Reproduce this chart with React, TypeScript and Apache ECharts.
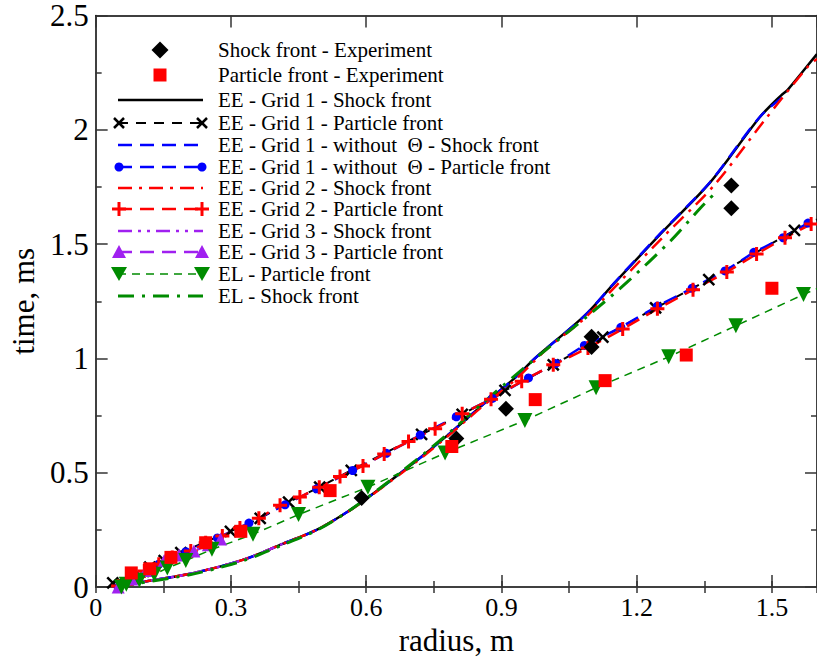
import { useEffect, useRef } from 'react';
import * as echarts from 'echarts';

const FONT = "'Liberation Serif', 'Times New Roman', Times, serif";

// ---- data (radius m, time ms) ----
const expShock: number[][] = [[0.59, 0.39], [0.80, 0.65], [0.91, 0.78], [1.10, 1.095], [1.10, 1.05], [1.41, 1.757], [1.41, 1.657]];
const expParticle: number[][] = [[0.079, 0.062], [0.12, 0.08], [0.167, 0.13], [0.244, 0.194], [0.322, 0.244], [0.52, 0.422], [0.79, 0.615], [0.975, 0.82], [1.13, 0.903], [1.31, 1.015], [1.50, 1.307]];

const ee1Shock: number[][] = [[0.04, 0], [0.108, 0.024], [0.218, 0.062], [0.328, 0.12], [0.416, 0.19], [0.49, 0.25], [0.563, 0.335], [0.637, 0.44], [0.71, 0.55], [0.783, 0.668], [0.857, 0.795], [0.93, 0.915], [0.974, 1.0], [1.084, 1.186], [1.15, 1.328], [1.253, 1.545], [1.363, 1.77], [1.473, 2.055], [1.52, 2.15], [1.535, 2.175], [1.598, 2.327], [1.6, 2.332]];
const ee1Particle: number[][] = [[0.038, 0.018], [0.12, 0.087], [0.152, 0.116], [0.189, 0.151], [0.299, 0.244], [0.365, 0.301], [0.428, 0.372], [0.497, 0.437], [0.567, 0.511], [0.723, 0.668], [0.813, 0.755], [0.908, 0.86], [1.015, 0.972], [1.125, 1.093], [1.242, 1.221], [1.36, 1.345], [1.55, 1.56], [1.6, 1.608]];
const ee1NoThetaShock: number[][] = [[0.04, 0], [0.108, 0.024], [0.218, 0.062], [0.328, 0.12], [0.416, 0.19], [0.49, 0.25], [0.563, 0.335], [0.637, 0.44], [0.71, 0.55], [0.783, 0.668], [0.857, 0.795], [0.93, 0.915], [0.974, 1.0], [1.084, 1.186], [1.15, 1.33], [1.253, 1.548], [1.363, 1.772], [1.473, 2.056], [1.532, 2.156]];
const ee1NoThetaParticle: number[][] = [[0.05, 0.0], [0.09, 0.045], [0.14, 0.1], [0.2, 0.155], [0.27, 0.215], [0.34, 0.28], [0.42, 0.36], [0.49, 0.43], [0.57, 0.51], [0.645, 0.585], [0.72, 0.665], [0.8, 0.745], [0.88, 0.825], [0.96, 0.915], [1.02, 0.978], [1.084, 1.057], [1.165, 1.136], [1.246, 1.229], [1.323, 1.307], [1.396, 1.383], [1.46, 1.464], [1.525, 1.528], [1.58, 1.592], [1.6, 1.612]];
const ee2Shock: number[][] = [[0.04, 0], [0.108, 0.024], [0.218, 0.062], [0.328, 0.12], [0.416, 0.19], [0.49, 0.25], [0.563, 0.334], [0.637, 0.438], [0.71, 0.546], [0.783, 0.663], [0.857, 0.789], [0.93, 0.905], [1.0, 1.04], [1.084, 1.175], [1.16, 1.33], [1.263, 1.54], [1.373, 1.76], [1.483, 2.04], [1.58, 2.277], [1.6, 2.31]];
const ee2Particle: number[][] = [[0.05, 0.005], [0.08, 0.035], [0.108, 0.07], [0.14, 0.1], [0.17, 0.13], [0.211, 0.158], [0.244, 0.194], [0.281, 0.223], [0.32, 0.258], [0.362, 0.301], [0.409, 0.358], [0.453, 0.394], [0.496, 0.437], [0.542, 0.484], [0.593, 0.53], [0.64, 0.582], [0.694, 0.637], [0.753, 0.693], [0.813, 0.758], [0.877, 0.822], [0.945, 0.9], [1.015, 0.972], [1.092, 1.046], [1.169, 1.129], [1.246, 1.217], [1.325, 1.3], [1.4, 1.378], [1.466, 1.457], [1.529, 1.528], [1.587, 1.588]];
const ee3Shock: number[][] = [[0.04, 0], [0.108, 0.024], [0.218, 0.062], [0.328, 0.12], [0.416, 0.19], [0.45, 0.215]];
const ee3Particle: number[][] = [[0.05, 0.0], [0.08, 0.035], [0.112, 0.073], [0.152, 0.116], [0.185, 0.14], [0.218, 0.158], [0.25, 0.185], [0.277, 0.21]];
const elParticle: number[][] = [[0.057, 0.0], [0.068, 0.012], [0.097, 0.03], [0.13, 0.056], [0.159, 0.083], [0.2, 0.116], [0.258, 0.165], [0.349, 0.231], [0.45, 0.317], [0.604, 0.437], [0.775, 0.586], [0.952, 0.729], [1.11, 0.872], [1.271, 1.007], [1.42, 1.143], [1.57, 1.28], [1.6, 1.305]];
const elShock: number[][] = [[0.05, 0], [0.108, 0.021], [0.218, 0.058], [0.328, 0.116], [0.416, 0.186], [0.49, 0.248], [0.563, 0.335], [0.637, 0.442], [0.71, 0.554], [0.783, 0.673], [0.857, 0.802], [0.93, 0.925], [1.0, 1.04], [1.1, 1.2], [1.18, 1.336], [1.275, 1.514], [1.341, 1.657], [1.38, 1.735]];

const xTicksMajor = { min: 0, max: 1.6, interval: 0.3, minor: 0.15 };
const yTicksMajor = { min: 0, max: 2.5, interval: 0.5 };

const names = [
  'Shock front - Experiment',
  'Particle front - Experiment',
  'EE - Grid 1 - Shock front',
  'EE - Grid 1 - Particle front',
  'EE - Grid 1 - without  Θ - Shock front',
  'EE - Grid 1 - without  Θ - Particle front',
  'EE - Grid 2 - Shock front',
  'EE - Grid 2 - Particle front',
  'EE - Grid 3 - Shock front',
  'EE - Grid 3 - Particle front',
  'EL - Particle front',
  'EL - Shock front',
];

const CROSS = 'path://M0,0L10,10M10,0L0,10';
const PLUS = 'path://M5,0L5,10M0,5L10,5';

type Sty = { data: number[][]; kind: 'scatter' | 'line'; color: string; dash?: number[] | 'solid'; width?: number; sym?: string; symSize?: number; symRotate?: number; stroke?: number; legendSym?: string; edgeNoSym?: boolean; smooth?: number };

const styles: Sty[] = [
  { data: expShock, kind: 'scatter', color: '#000000', sym: 'diamond', symSize: 16, legendSym: 'diamond' },
  { data: expParticle, kind: 'scatter', color: '#ff0000', sym: 'rect', symSize: 13, legendSym: 'rect' },
  { data: ee1Shock, kind: 'line', color: '#000000', dash: 'solid', width: 2.5, smooth: 0.3 },
  { data: ee1Particle, kind: 'line', color: '#000000', dash: [10, 8], width: 2, sym: CROSS, symSize: 11, stroke: 2.5, legendSym: 'cross', edgeNoSym: true },
  { data: ee1NoThetaShock, kind: 'line', color: '#0000ff', dash: [14, 8], width: 2.5, smooth: 0.3 },
  { data: ee1NoThetaParticle, kind: 'line', color: '#0000ff', dash: [14, 8], width: 2.5, sym: 'circle', symSize: 9, legendSym: 'circle', edgeNoSym: true },
  { data: ee2Shock, kind: 'line', color: '#ff0000', dash: [14, 7, 3, 7], width: 2.5, smooth: 0.3 },
  { data: ee2Particle, kind: 'line', color: '#ff0000', dash: [14, 8], width: 2.5, sym: PLUS, symSize: 14, stroke: 3, legendSym: 'plus' },
  { data: ee3Shock, kind: 'line', color: '#a020f0', dash: [14, 6, 3, 6, 3, 6], width: 2.5, smooth: 0.3 },
  { data: ee3Particle, kind: 'line', color: '#a020f0', dash: [14, 8], width: 2.5, sym: 'triangle', symSize: 13, legendSym: 'triangle' },
  { data: elParticle, kind: 'line', color: '#008b00', dash: [8, 6], width: 1.5, sym: 'triangle', symSize: 15, symRotate: 180, legendSym: 'down', edgeNoSym: true },
  { data: elShock, kind: 'line', color: '#008b00', dash: [16, 8, 3, 8], width: 3, smooth: 0.3 },
];

function legendSymbol(kind: string, cx: number, cy: number, color: string): any[] {
  switch (kind) {
    case 'diamond':
      return [{ type: 'polygon', shape: { points: [[cx, cy - 8.5], [cx + 8.5, cy], [cx, cy + 8.5], [cx - 8.5, cy]] }, style: { fill: color } }];
    case 'rect':
      return [{ type: 'rect', shape: { x: cx - 6.5, y: cy - 6.5, width: 13, height: 13 }, style: { fill: color } }];
    case 'cross':
      return [
        { type: 'line', shape: { x1: cx - 5, y1: cy - 5, x2: cx + 5, y2: cy + 5 }, style: { stroke: color, lineWidth: 2.5 } },
        { type: 'line', shape: { x1: cx - 5, y1: cy + 5, x2: cx + 5, y2: cy - 5 }, style: { stroke: color, lineWidth: 2.5 } },
      ];
    case 'circle':
      return [{ type: 'circle', shape: { cx, cy, r: 4.5 }, style: { fill: color } }];
    case 'plus':
      return [
        { type: 'line', shape: { x1: cx - 7, y1: cy, x2: cx + 7, y2: cy }, style: { stroke: color, lineWidth: 3 } },
        { type: 'line', shape: { x1: cx, y1: cy - 7, x2: cx, y2: cy + 7 }, style: { stroke: color, lineWidth: 3 } },
      ];
    case 'triangle':
      return [{ type: 'polygon', shape: { points: [[cx, cy - 7], [cx + 7, cy + 6], [cx - 7, cy + 6]] }, style: { fill: color } }];
    case 'down':
      return [{ type: 'polygon', shape: { points: [[cx - 8, cy - 7], [cx + 8, cy - 7], [cx, cy + 7]] }, style: { fill: color } }];
  }
  return [];
}

export default function App() {
  const ref = useRef<HTMLDivElement>(null);
  useEffect(() => {
    if (!ref.current) return;
    const chart = echarts.init(ref.current, undefined, { renderer: 'svg' });

    const series: any[] = styles.map((s, i) => {
      if (s.kind === 'scatter') {
        return {
          name: names[i], type: 'scatter', data: s.data, symbol: s.sym, symbolSize: s.symSize,
          itemStyle: { color: s.color, opacity: 1 }, z: 5,
        };
      }
      const last = s.data.length - 1;
      const data = s.data.map((p, k) => (s.edgeNoSym && k === last ? { value: p, symbol: 'none' } : p));
      return {
        name: names[i], type: 'line', data, smooth: s.smooth || false,
        showSymbol: !!s.sym, showAllSymbol: true,
        symbol: s.sym || 'none', symbolSize: s.symSize, symbolRotate: s.symRotate || 0,
        lineStyle: { color: s.color, width: s.width, type: s.dash },
        itemStyle: { color: s.stroke ? 'none' : s.color, borderColor: s.color, borderWidth: s.stroke || 0, opacity: 1 },
        z: 3,
      };
    });

    const rowY = [50, 75, 100, 123, 145, 167, 188, 209, 231, 252, 274, 296];
    const graphics: any[] = [];
    styles.forEach((s, i) => {
      const y = rowY[i];
      if (s.kind === 'scatter') {
        graphics.push(...legendSymbol(s.legendSym!, 160, y, s.color));
      } else {
        graphics.push({
          type: 'line', shape: { x1: 118, y1: y, x2: 203, y2: y },
          style: { stroke: s.color, lineWidth: s.width, lineDash: s.dash === 'solid' ? null : s.dash },
        });
        if (s.legendSym) {
          graphics.push(...legendSymbol(s.legendSym, 119, y, s.color));
          graphics.push(...legendSymbol(s.legendSym, 202, y, s.color));
        }
      }
      graphics.push({
        type: 'text', x: 218, y,
        style: { text: names[i], fill: '#000', font: `21px ${FONT}`, verticalAlign: 'middle', align: 'left' },
      });
    });

    const tickStyle = { color: '#333', width: 1.5 };
    const baseX = { type: 'value', min: xTicksMajor.min, max: xTicksMajor.max, splitLine: { show: false } };
    chart.setOption({
      animation: false,
      backgroundColor: '#fff',
      grid: { left: 90, right: 0, top: 14, bottom: 64, containLabel: false },
      xAxis: [
        {
          ...baseX, interval: xTicksMajor.interval, position: 'bottom',
          axisLine: { show: true, onZero: false, lineStyle: { color: '#000', width: 1.5 } },
          axisTick: { inside: true, length: 12, lineStyle: tickStyle },
          axisLabel: { fontFamily: FONT, fontSize: 26, color: '#000', margin: 7, showMaxLabel: false },
          name: 'radius, m', nameLocation: 'middle', nameGap: 26,
          nameTextStyle: { fontFamily: FONT, fontSize: 31, color: '#000' },
        },
        {
          ...baseX, interval: xTicksMajor.minor, position: 'bottom',
          axisLine: { show: false }, axisTick: { inside: true, length: 6, lineStyle: tickStyle }, axisLabel: { show: false },
        },
        {
          ...baseX, interval: xTicksMajor.interval, position: 'top',
          axisLine: { show: true, onZero: false, lineStyle: { color: '#000', width: 1.5 } },
          axisTick: { inside: true, length: 12, lineStyle: tickStyle }, axisLabel: { show: false },
        },
        {
          ...baseX, interval: xTicksMajor.minor, position: 'top',
          axisLine: { show: false }, axisTick: { inside: true, length: 6, lineStyle: tickStyle }, axisLabel: { show: false },
        },
      ],
      yAxis: [
        {
          type: 'value', min: yTicksMajor.min, max: yTicksMajor.max, interval: yTicksMajor.interval, position: 'left',
          splitLine: { show: false },
          axisLine: { show: true, onZero: false, lineStyle: { color: '#000', width: 1.5 } },
          axisTick: { inside: true, length: 12, lineStyle: tickStyle },
          minorTick: { show: true, splitNumber: 2, length: 6, lineStyle: tickStyle },
          axisLabel: { fontFamily: FONT, fontSize: 31, color: '#000', margin: 7 },
          name: 'time, ms', nameLocation: 'middle', nameGap: 50,
          nameTextStyle: { fontFamily: FONT, fontSize: 31, color: '#000' },
        },
        {
          type: 'value', min: yTicksMajor.min, max: yTicksMajor.max, interval: yTicksMajor.interval, position: 'right',
          splitLine: { show: false },
          axisLine: { show: true, onZero: false, lineStyle: { color: '#000', width: 1.5 } },
          axisTick: { inside: true, length: 12, lineStyle: tickStyle },
          minorTick: { show: true, splitNumber: 2, length: 6, lineStyle: tickStyle },
          axisLabel: { show: false },
        },
      ],
      graphic: graphics,
      series,
    });
    return () => chart.dispose();
  }, []);
  return <div ref={ref} style={{ position: 'fixed', left: 0, top: 0, width: 817, height: 661 }} />;
}
